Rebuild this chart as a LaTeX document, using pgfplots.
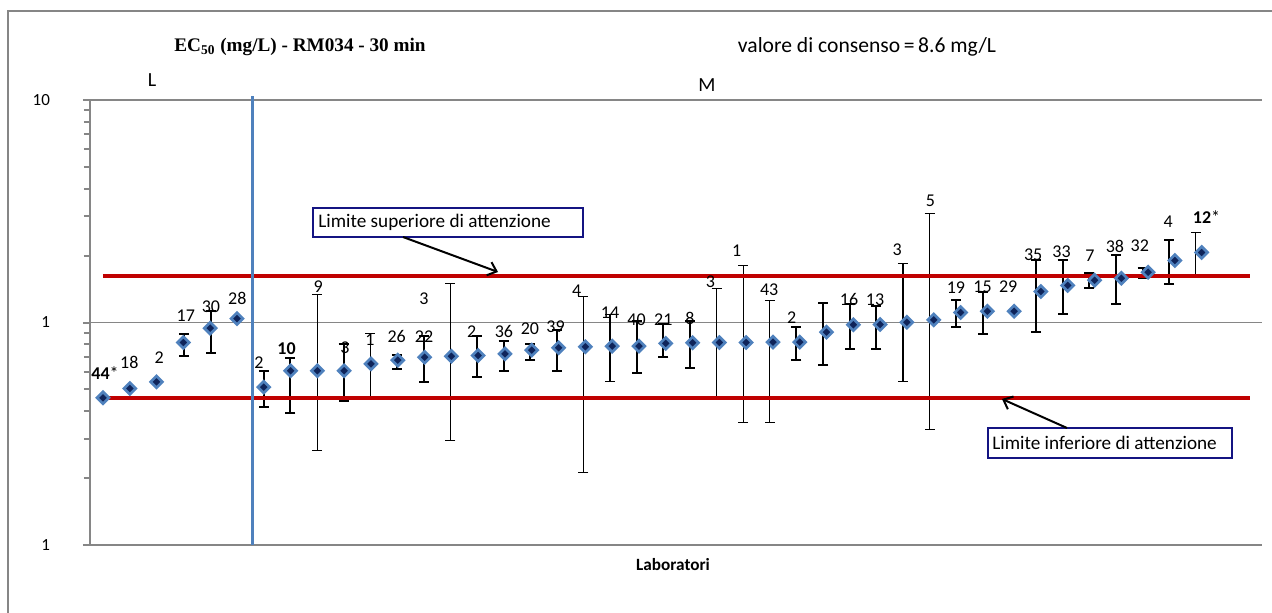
\documentclass[border=0pt]{standalone}
\usepackage{fontspec}
\setmainfont{Carlito}
\newfontfamily\tnr{Liberation Serif}
\usepackage{pgfplots}
\usepackage{pgfplotstable}
\pgfplotsset{compat=1.18}
\usetikzlibrary{arrows.meta}
\definecolor{gridgray}{RGB}{134,134,134}
\definecolor{exblue}{RGB}{79,129,189}
\definecolor{exnavy}{RGB}{15,36,90}
\definecolor{exred}{RGB}{192,0,0}
\definecolor{boxblue}{RGB}{20,20,130}

\pgfplotstableread{
x y
1 0.459
2 0.505
3 0.541
4 0.813
5 0.943
6 1.042
7 0.512
8 0.607
9 0.607
10 0.607
11 0.652
12 0.677
13 0.698
14 0.706
15 0.711
16 0.723
17 0.751
18 0.770
19 0.778
20 0.783
21 0.783
22 0.805
23 0.811
24 0.813
25 0.813
26 0.816
27 0.816
28 0.905
29 0.977
30 0.980
31 1.003
32 1.028
33 1.109
34 1.124
35 1.124
36 1.378
37 1.467
38 1.549
39 1.582
40 1.683
41 1.900
42 2.064
}\markers

\pgfplotstableread{
x y top bot
4.021 0.813 0.892 0.706
5.015 0.943 1.129 0.728
7.002 0.512 0.604 0.418
7.996 0.607 0.696 0.393
9.983 0.607 0.802 0.442
11.970 0.677 0.718 0.615
12.964 0.698 0.868 0.543
14.952 0.711 0.868 0.570
15.946 0.723 0.830 0.604
16.939 0.751 0.802 0.677
17.933 0.770 0.930 0.604
20.914 0.783 1.014 0.594
21.908 0.805 0.980 0.698
22.902 0.811 1.014 0.626
26.876 0.816 0.953 0.675
27.870 0.905 1.226 0.643
28.864 0.977 1.205 0.764
29.858 0.980 1.192 0.764
32.839 1.109 1.256 0.950
33.832 1.124 1.374 0.892
35.820 1.378 1.919 0.905
36.813 1.467 1.919 1.090
37.807 1.549 1.661 1.427
38.801 1.582 2.001 1.217
39.795 1.683 1.762 1.577
40.788 1.900 2.344 1.486
}\thickbars

\pgfplotstableread{
x y top bot
8.990 0.607 1.336 0.266
10.977 0.652 0.890 0.4555
13.958 0.706 1.492 0.296
18.927 0.778 1.313 0.211
19.920 0.783 1.086 0.543
23.895 0.813 1.422 0.454
24.889 0.813 1.804 0.356
25.883 0.816 1.256 0.356
30.851 1.003 1.836 0.541
31.845 1.028 3.090 0.330
41.782 2.064 2.538 1.643
}\thinbars

\begin{document}
\begin{tikzpicture}
\useasboundingbox (0,0) rectangle (636pt,306pt);
\draw[gridgray, line width=1pt] (4pt,-2pt) -- (4pt,300.5pt) -- (640pt,300.5pt);
\begin{axis}[
  at={(45pt,33.5pt)}, anchor=south west,
  scale only axis, width=586pt, height=222.5pt,
  xmin=0.515, xmax=44.25,
  ymode=log, ymin=0.1, ymax=10,
  ytick={0.1,1,10}, yticklabels={1,1,10},
  minor ytick={0.2,0.3,0.4,0.5,0.6,0.7,0.8,0.9,2,3,4,5,6,7,8,9},
  xtick=\empty,
  axis x line*=bottom, axis y line*=left,
  axis line style={gridgray, line width=1pt},
  tick align=outside,
  major tick length=3.5pt, minor tick length=3pt,
  tick style={gridgray, line width=1pt},
  ymajorgrids, grid style={gridgray, line width=0.6pt},
  yticklabel style={font=\fontsize{8.5}{10}\selectfont, xshift=-13pt},
  /pgf/number format/assume math mode=true,
  clip=false,
  error bars/error bar style={black},
]
\addplot[draw=none, mark=none, forget plot,
  error bars/.cd, y dir=both, y explicit,
  error bar style={line width=1pt},
  error mark options={rotate=90, mark size=2.5pt, line width=1pt, black}]
  table[x=x, y=y, y error plus expr=\thisrow{top}-\thisrow{y}, y error minus expr=\thisrow{y}-\thisrow{bot}] {\thickbars};
\addplot[draw=none, mark=none, forget plot,
  error bars/.cd, y dir=both, y explicit,
  error bar style={line width=0.55pt},
  error mark options={rotate=90, mark size=2.5pt, line width=0.55pt, black}]
  table[x=x, y=y, y error plus expr=\thisrow{top}-\thisrow{y}, y error minus expr=\thisrow{y}-\thisrow{bot}] {\thinbars};
\addplot[exred, line width=2pt, mark=none] coordinates {(1,1.626) (43.8,1.626)};
\addplot[exred, line width=2pt, mark=none] coordinates {(1,0.4555) (43.8,0.4555)};
\addplot[exblue, line width=1.5pt, mark=none] coordinates {(6.586,10.37) (6.586,0.1)};
\addplot[only marks, mark=square*, mark size=2.08pt,
  mark options={rotate=45, draw=exblue, fill=exnavy, line width=1.33pt}]
  table[x=x, y=y] {\markers};
\begin{scope}[every node/.style={font=\fontsize{9}{10}\selectfont, inner sep=0pt, anchor=center}]
\node at (axis cs:1.075,0.594) {\textbf{44}*};
\node at (axis cs:1.98,0.663) {18};
\node at (axis cs:3.10,0.698) {2};
\node at (axis cs:4.09,1.075) {17};
\node at (axis cs:5.03,1.172) {30};
\node at (axis cs:6.01,1.282) {28};
\node at (axis cs:6.82,0.659) {2};
\node at (axis cs:7.85,0.762) {\textbf{10}};
\node at (axis cs:9.03,1.447) {9};
\node at (axis cs:10.03,0.770) {3};
\node at (axis cs:10.96,0.839) {1};
\node at (axis cs:11.96,0.862) {26};
\node at (axis cs:12.98,0.868) {22};
\node at (axis cs:12.98,1.278) {3};
\node at (axis cs:14.76,0.914) {2};
\node at (axis cs:15.96,0.914) {36};
\node at (axis cs:16.93,0.937) {20};
\node at (axis cs:17.89,0.956) {39};
\node at (axis cs:18.68,1.393) {4};
\node at (axis cs:19.92,1.112) {14};
\node at (axis cs:20.91,1.024) {40};
\node at (axis cs:21.91,1.032) {21};
\node at (axis cs:22.90,1.045) {8};
\node at (axis cs:23.67,1.518) {3};
\node at (axis cs:24.65,2.113) {1};
\node at (axis cs:25.86,1.397) {43};
\node at (axis cs:26.70,1.050) {2};
\node at (axis cs:28.84,1.269) {16};
\node at (axis cs:29.81,1.269) {13};
\node at (axis cs:30.64,2.129) {3};
\node at (axis cs:31.88,3.510) {5};
\node at (axis cs:32.83,1.432) {19};
\node at (axis cs:33.82,1.447) {15};
\node at (axis cs:34.78,1.447) {29};
\node at (axis cs:35.71,2.021) {35};
\node at (axis cs:36.77,2.070) {33};
\node at (axis cs:37.83,1.986) {7};
\node at (axis cs:38.76,2.203) {38};
\node at (axis cs:39.69,2.203) {32};
\node at (axis cs:40.75,2.824) {4};
\node at (axis cs:42.18,2.985) {\textbf{12}*};
\end{scope}
\end{axis}
\begin{scope}[x=0.5pt, y=0.5pt]
\node[font=\tnr\bfseries\fontsize{9.6}{11}\selectfont] at (300,565) {EC\textsubscript{50} (mg/L) - RM034 - 30 min};
\node[font=\fontsize{10.8}{12}\selectfont] at (867,565) {valore di consenso\,=\,8.6 mg/L};
\node[font=\fontsize{10}{12}\selectfont] at (152,532) {L};
\node[font=\fontsize{10}{12}\selectfont] at (707,527) {M};
\node[font=\bfseries\fontsize{8.6}{10}\selectfont] at (673,47) {Laboratori};
\draw[boxblue, line width=1pt, fill=white] (313,375) rectangle (583,404);
\node[anchor=west, font=\fontsize{9.6}{12}\selectfont, inner sep=0pt] at (318,389.5) {Limite superiore di attenzione};
\draw[black, line width=1pt, -{Straight Barb[length=4pt, width=7pt]}] (403,375) -- (498,340);
\draw[boxblue, line width=1pt, fill=white] (988,154) rectangle (1232,184);
\node[anchor=west, font=\fontsize{9.6}{12}\selectfont, inner sep=0pt] at (992,169) {Limite inferiore di attenzione};
\draw[black, line width=1pt, -{Straight Barb[length=4pt, width=7pt]}] (1067,184) -- (1002,213);
\end{scope}
\end{tikzpicture}
\end{document}
